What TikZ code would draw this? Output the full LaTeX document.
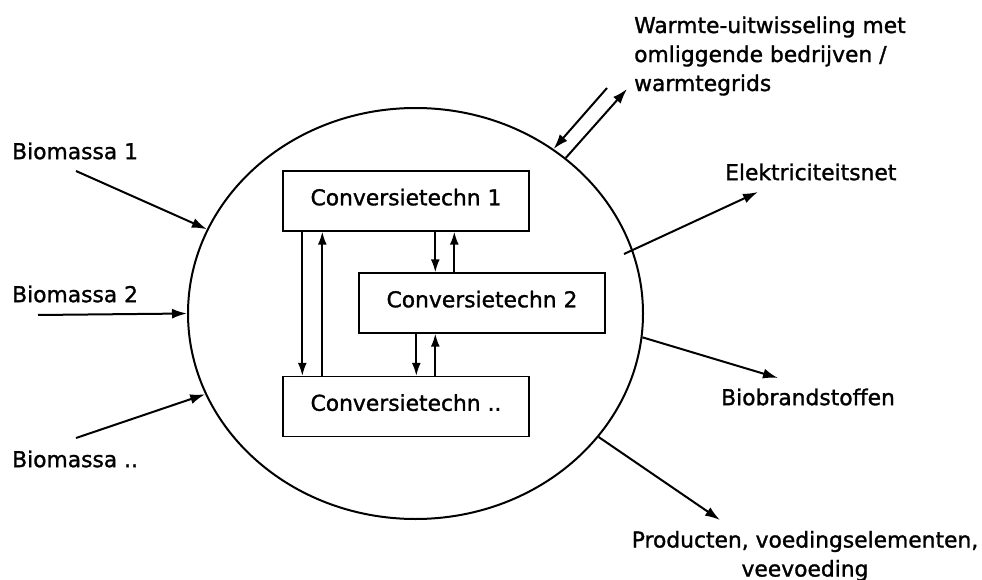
\documentclass[tikz,border=0pt]{standalone}
\usepackage{fontspec}
\setmainfont{DejaVu Sans}[FakeBold=1.3]
\usetikzlibrary{arrows.meta,shapes.geometric}
\begin{document}
\begin{tikzpicture}[x=1pt,y=-1pt,
  txt/.style={font=\fontsize{21.8}{29}\selectfont, inner sep=0pt},
  techbox/.style={draw, line width=1.4pt, minimum width=246pt, minimum height=60pt, inner sep=0pt, font=\fontsize{21.8}{29}\selectfont},
  arr/.style={line width=2pt, -{Latex[length=15pt,width=10pt]}},
  iarr/.style={line width=1.8pt, -{Latex[length=13pt,width=9pt]}}]
\useasboundingbox (0,0) rectangle (982,580);
% system circle
\node[ellipse, draw, line width=2pt, minimum width=455pt, minimum height=411pt, inner sep=0pt] (sys) at (415.5,313.5) {};
% boxes
\node[techbox] (b1) at (406,201) {\raisebox{8pt}{Conversietechn 1}};
\node[techbox] (b2) at (482,303) {\raisebox{8pt}{Conversietechn 2}};
\node[techbox] (b3) at (406,406.5) {\raisebox{8pt}{Conversietechn ..}};
% inner arrows
\draw[iarr] ([xshift=20pt]b1.south west) -- ([xshift=20pt]b3.north west);
\draw[iarr] ([xshift=40pt]b3.north west) -- ([xshift=40pt]b1.south west);
\draw[iarr] ([xshift=153pt]b1.south west) -- ([xshift=153pt]b1.south west |- b2.north);
\draw[iarr] ([xshift=172pt]b1.south west |- b2.north) -- ([xshift=172pt]b1.south west);
\draw[iarr] ([xshift=58pt]b2.south west) -- ([xshift=58pt]b2.south west |- b3.north);
\draw[iarr] ([xshift=77pt]b2.south west |- b3.north) -- ([xshift=77pt]b2.south west);
% labels
\node[txt, anchor=west] (bm1) at (12,151) {Biomassa 1};
\node[txt, anchor=west] (bm2) at (12,294) {Biomassa 2};
\node[txt, anchor=west] (bm3) at (12,459) {Biomassa ..};
\node[txt, anchor=west, align=left] (warm) at (634,56) {Warmte-uitwisseling met\\omliggende bedrijven /\\warmtegrids};
\node[txt, anchor=west] (elek) at (725,172) {Elektriciteitsnet};
\node[txt, anchor=west] (bio) at (721,397) {Biobrandstoffen};
\node[txt, align=center] (prod) at (805,556) {Producten, voedingselementen,\\veevoeding};
% free ends
\coordinate (c1) at (76,171);
\coordinate (c2) at (38,315);
\coordinate (c3) at (76,438);
\coordinate (w1) at (607,88);
\coordinate (w2) at (627,89);
\coordinate (e0) at (624,254);
\coordinate (e1) at (758,192);
\coordinate (f1) at (778,378);
\coordinate (p1) at (720,520);
% outer arrows
\draw[arr] (c1) -- (sys.158.6);
\draw[arr] (c2) -- (sys.180);
\draw[arr] (c3) -- (sys.201.9);
\draw[arr] (w1) -- (sys.50.5);
\draw[arr] (sys.46.6) -- (w2);
\draw[arr] (e0) -- (e1);
\draw[arr] (sys.354.4) -- (f1);
\draw[arr] (sys.326.8) -- (p1);
\end{tikzpicture}
\end{document}
